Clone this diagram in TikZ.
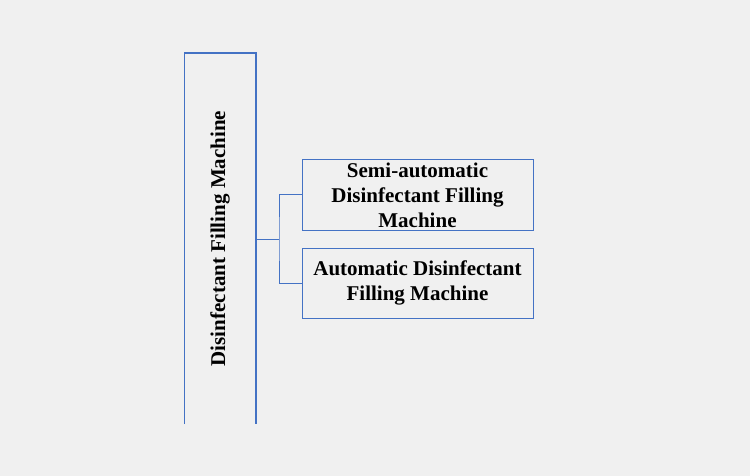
\documentclass[tikz,border=0pt]{standalone}
\usepackage{fontspec}
\setmainfont{Liberation Serif}
\definecolor{bg}{HTML}{F0F0F0}
\definecolor{edge}{HTML}{4472C4}
\begin{document}
\begin{tikzpicture}[x=1pt,y=-1pt,
  txt/.style={font=\bfseries\fontsize{21}{25}\selectfont, align=center, text=black},
  subbox/.style={txt, draw=edge, line width=1pt, minimum width=231pt, minimum height=70pt, inner sep=0pt},
  conn/.style={draw=edge, line width=1pt}]
\fill[bg] (0,0) rectangle (750,476);
\useasboundingbox (0,0) rectangle (750,476);
\node[minimum width=71pt, minimum height=371pt, inner sep=0pt] (main) at (220,238.5) {};
\node[txt, rotate=90] (mainlbl) at (main.center) {Disinfectant Filling Machine};
\draw[edge, line width=1.6pt] (main.south west) -- (main.north west) -- (main.north east) -- (main.south east);
\node[subbox] (semi) at (417.5,195) {Semi-automatic\\Disinfectant Filling\\Machine};
\node[subbox] (auto) at (417.5,283) {Automatic Disinfectant\\Filling Machine};
\coordinate (j) at (279,239);
\draw[conn] (main.east |- j) -- (j);
\draw[conn] (semi.west) -| (j) |- (auto.west);
\end{tikzpicture}
\end{document}
